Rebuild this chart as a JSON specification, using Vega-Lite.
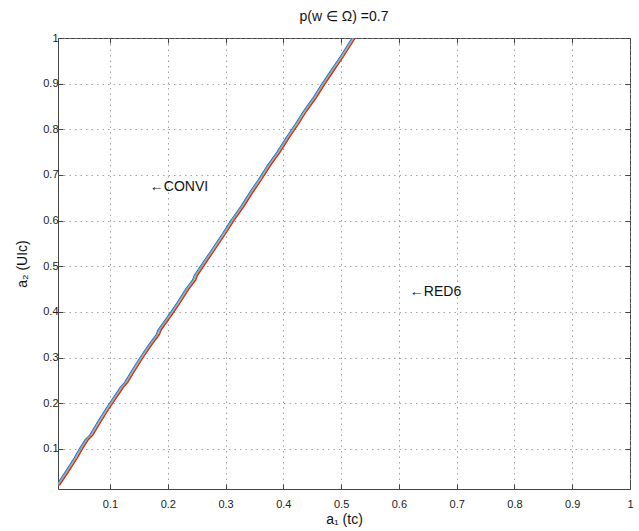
{
  "$schema": "https://vega.github.io/schema/vega-lite/v6.json",
  "autosize": "none",
  "padding": {"left": 58, "top": 38, "right": 9, "bottom": 42},
  "width": 572,
  "height": 451,
  "background": "white",
  "title": {"text": "p(w ∈ Ω) =0.7", "font": "Liberation Sans", "fontSize": 14, "fontWeight": "normal", "color": "#111", "offset": 8},
  "config": {
    "view": {"stroke": "#444", "strokeWidth": 1},
    "axis": {
      "labelFont": "Liberation Sans", "labelFontSize": 11, "labelColor": "#222",
      "titleFont": "Liberation Sans", "titleFontSize": 14, "titleFontWeight": "normal", "titleColor": "#111",
      "domain": false, "tickColor": "#444", "tickSize": -5, "labelFlush": false,
      "gridColor": "#888", "gridDash": [1.5, 4], "gridOpacity": 0.8
    }
  },
  "datasets": {
    "curves": [
      {"y": 0.02, "b": 0.007, "c": 0.0085, "o": 0.011, "r": 0.0125},
      {"y": 0.05, "b": 0.023, "c": 0.0245, "o": 0.027, "r": 0.0285},
      {"y": 0.08, "b": 0.038, "c": 0.0395, "o": 0.042, "r": 0.0435},
      {"y": 0.10, "b": 0.047, "c": 0.0485, "o": 0.051, "r": 0.0525},
      {"y": 0.12, "b": 0.057, "c": 0.0585, "o": 0.061, "r": 0.0625},
      {"y": 0.13, "b": 0.065, "c": 0.0665, "o": 0.069, "r": 0.0705},
      {"y": 0.16, "b": 0.079, "c": 0.0805, "o": 0.083, "r": 0.0845},
      {"y": 0.19, "b": 0.094, "c": 0.0955, "o": 0.098, "r": 0.0995},
      {"y": 0.22, "b": 0.110, "c": 0.1115, "o": 0.114, "r": 0.1155},
      {"y": 0.235, "b": 0.118, "c": 0.1195, "o": 0.122, "r": 0.1235},
      {"y": 0.245, "b": 0.125, "c": 0.1265, "o": 0.129, "r": 0.1305},
      {"y": 0.27, "b": 0.137, "c": 0.1385, "o": 0.141, "r": 0.1425},
      {"y": 0.30, "b": 0.152, "c": 0.1535, "o": 0.156, "r": 0.1575},
      {"y": 0.33, "b": 0.168, "c": 0.1695, "o": 0.172, "r": 0.1735},
      {"y": 0.35, "b": 0.180, "c": 0.1815, "o": 0.184, "r": 0.1855},
      {"y": 0.36, "b": 0.183, "c": 0.1845, "o": 0.187, "r": 0.1885},
      {"y": 0.39, "b": 0.200, "c": 0.2015, "o": 0.204, "r": 0.2055},
      {"y": 0.42, "b": 0.216, "c": 0.2175, "o": 0.220, "r": 0.2215},
      {"y": 0.45, "b": 0.231, "c": 0.2325, "o": 0.235, "r": 0.2365},
      {"y": 0.47, "b": 0.243, "c": 0.2445, "o": 0.247, "r": 0.2485},
      {"y": 0.48, "b": 0.246, "c": 0.2475, "o": 0.250, "r": 0.2515},
      {"y": 0.51, "b": 0.262, "c": 0.2635, "o": 0.266, "r": 0.2675},
      {"y": 0.54, "b": 0.278, "c": 0.2795, "o": 0.282, "r": 0.2835},
      {"y": 0.57, "b": 0.294, "c": 0.2955, "o": 0.298, "r": 0.2995},
      {"y": 0.60, "b": 0.309, "c": 0.3105, "o": 0.313, "r": 0.3145},
      {"y": 0.63, "b": 0.326, "c": 0.3275, "o": 0.330, "r": 0.3315},
      {"y": 0.66, "b": 0.341, "c": 0.3425, "o": 0.345, "r": 0.3465},
      {"y": 0.69, "b": 0.357, "c": 0.3585, "o": 0.361, "r": 0.3625},
      {"y": 0.72, "b": 0.372, "c": 0.3735, "o": 0.376, "r": 0.3775},
      {"y": 0.75, "b": 0.389, "c": 0.3905, "o": 0.393, "r": 0.3945},
      {"y": 0.78, "b": 0.404, "c": 0.4055, "o": 0.408, "r": 0.4095},
      {"y": 0.81, "b": 0.420, "c": 0.4215, "o": 0.424, "r": 0.4255},
      {"y": 0.84, "b": 0.435, "c": 0.4365, "o": 0.439, "r": 0.4405},
      {"y": 0.87, "b": 0.452, "c": 0.4535, "o": 0.456, "r": 0.4575},
      {"y": 0.90, "b": 0.467, "c": 0.4685, "o": 0.471, "r": 0.4725},
      {"y": 0.93, "b": 0.483, "c": 0.4845, "o": 0.487, "r": 0.4885},
      {"y": 0.96, "b": 0.499, "c": 0.5005, "o": 0.503, "r": 0.5045},
      {"y": 1.00, "b": 0.519, "c": 0.5205, "o": 0.523, "r": 0.5245},
      {"y": 1.02, "b": 0.530, "c": 0.5315, "o": 0.534, "r": 0.5355}
    ],
    "notes": [
      {"x": 0.169, "y": 0.674, "label": "←CONVI"},
      {"x": 0.619, "y": 0.444, "label": "←RED6"}
    ]
  },
  "layer": [
    {
      "data": {"name": "curves"},
      "transform": [{"fold": ["b", "c", "o", "r"], "as": ["series", "xv"]}],
      "mark": {"type": "line", "clip": true, "strokeWidth": 1.2},
      "encoding": {
        "x": {"field": "xv", "type": "quantitative", "scale": {"domain": [0.01, 1], "nice": false, "zero": false},
              "axis": {"orient": "bottom", "values": [0.1, 0.2, 0.3, 0.4, 0.5, 0.6, 0.7, 0.8, 0.9, 1], "format": "~g", "title": "a₁ (tc)", "labelPadding": 14, "titlePadding": 3}},
        "y": {"field": "y", "type": "quantitative", "scale": {"domain": [0.012, 1], "nice": false, "zero": false},
              "axis": {"orient": "left", "values": [0.1, 0.2, 0.3, 0.4, 0.5, 0.6, 0.7, 0.8, 0.9, 1], "format": "~g", "title": "a₂ (UIc)", "labelPadding": 5, "titlePadding": 13}},
        "color": {"field": "series", "type": "nominal", "scale": {"domain": ["b", "c", "o", "r"], "range": ["#2a5fbf", "#4db3e6", "#e8862a", "#cc2a1e"]}, "legend": null},
        "order": {"field": "y", "type": "quantitative"}
      }
    },
    {
      "data": {"name": "notes"},
      "mark": {"type": "text", "align": "left", "baseline": "middle", "font": "Liberation Sans", "fontSize": 14, "color": "#111"},
      "encoding": {
        "x": {"field": "x", "type": "quantitative", "axis": null},
        "y": {"field": "y", "type": "quantitative", "axis": null},
        "text": {"field": "label"}
      }
    },
    {
      "data": {"name": "notes"},
      "mark": {"type": "point", "opacity": 0},
      "encoding": {
        "x": {"field": "x", "type": "quantitative", "axis": {"orient": "top", "values": [0.1, 0.2, 0.3, 0.4, 0.5, 0.6, 0.7, 0.8, 0.9, 1], "labels": false, "grid": false, "title": null}},
        "y": {"field": "y", "type": "quantitative", "axis": {"orient": "right", "values": [0.1, 0.2, 0.3, 0.4, 0.5, 0.6, 0.7, 0.8, 0.9, 1], "labels": false, "grid": false, "title": null}}
      }
    }
  ],
  "resolve": {"axis": {"x": "independent", "y": "independent"}}
}
